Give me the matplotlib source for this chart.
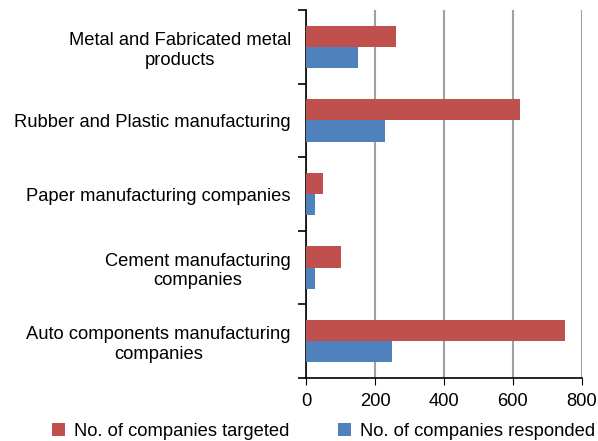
import numpy as np
import matplotlib.pyplot as plt

plt.rcParams['font.family'] = ['Liberation Sans', 'DejaVu Sans']

# Categories listed bottom to top
categories = [
    "Auto components manufacturing\ncompanies",
    "Cement manufacturing\ncompanies",
    "Paper manufacturing companies",
    "Rubber and Plastic manufacturing",
    "Metal and Fabricated metal\nproducts",
]
targeted = [750, 100, 50, 620, 260]
responded = [250, 25, 25, 230, 150]

red = '#C0504D'
blue = '#4F81BD'

fig = plt.figure(figsize=(5.98, 4.41), dpi=100)
ax = fig.add_axes([0.512, 0.143, 0.461, 0.834])

y = np.arange(len(categories))
h = 0.29
ax.barh(y + h / 2, targeted, height=h, color=red, label='No. of companies targeted', zorder=3)
ax.barh(y - h / 2, responded, height=h, color=blue, label='No. of companies responded', zorder=3)

ax.set_xlim(0, 800)
ax.set_ylim(-0.5, len(categories) - 0.5)
ax.set_xticks([0, 200, 400, 600, 800])
ax.tick_params(axis='x', labelsize=13.2, length=5, direction='out', pad=6)

# category labels centered, ticks at group boundaries
ax.set_yticks(y)
ax.set_yticklabels(categories, fontsize=13.2, multialignment='center')
ax.tick_params(axis='y', which='major', length=0, pad=11)
ax.set_yticks(np.arange(-0.5, len(categories)), minor=True)
ax.tick_params(axis='y', which='minor', length=6, width=1.2, direction='out')

ax.grid(axis='x', color='#A0A0A0', linewidth=1.5, zorder=0)
for s in ['top', 'right']:
    ax.spines[s].set_visible(False)
ax.spines['left'].set_linewidth(1.2)
ax.spines['bottom'].set_linewidth(1.2)

fig.legend(loc='lower center', bbox_to_anchor=(0.541, -0.035), ncol=2, frameon=False,
           fontsize=13.2, handlelength=0.7, handleheight=0.7, columnspacing=2.65,
           handletextpad=0.5)

fig.savefig('out.png', dpi=100)
